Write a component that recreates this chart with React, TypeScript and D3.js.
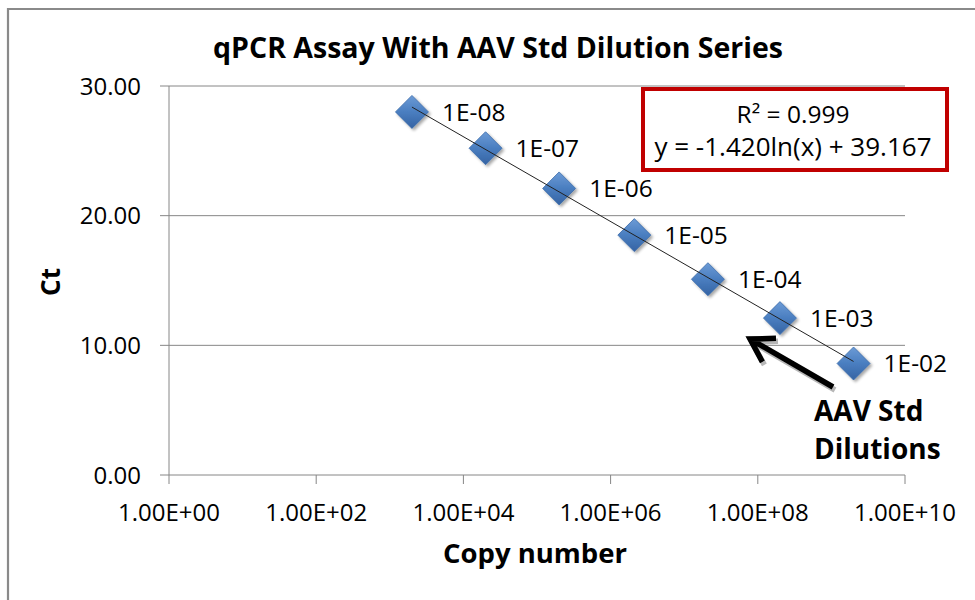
import React from "react";
import * as d3 from "d3";

const dilutionLabels = ["1E-08", "1E-07", "1E-06", "1E-05", "1E-04", "1E-03", "1E-02"];
const copyNumbers = [2.0e3, 2.0e4, 2.0e5, 2.1e6, 2.1e7, 2.0e8, 2.0e9];
const ctValues = [28.0, 25.2, 22.1, 18.5, 15.1, 12.1, 8.6];
const xTickValues = [1, 1e2, 1e4, 1e6, 1e8, 1e10];
const xTickLabels = ["1.00E+00", "1.00E+02", "1.00E+04", "1.00E+06", "1.00E+08", "1.00E+10"];
const yTickValues = [0, 10, 20, 30];
const trendSlope = -1.42;
const trendIntercept = 39.167;
const rSquaredText = "R² = 0.999";
const equationText = "y = -1.420ln(x) + 39.167";

const FONT = "'Open Sans', 'DejaVu Sans', sans-serif";

export default function App() {
  const W = 975, H = 600;
  const x = d3.scaleLog().domain([1, 1e10]).range([169, 905]);
  const y = d3.scaleLinear().domain([0, 30]).range([475, 86]);
  const fmtY = d3.format(".2f");

  const xMin = d3.min(copyNumbers) as number;
  const xMax = d3.max(copyNumbers) as number;
  const trend = (v: number) => trendSlope * Math.log(v) + trendIntercept;
  const trendLine = d3.line<number>().x((d) => x(d)).y((d) => y(trend(d)))([xMin, xMax]) || "";

  const r = 16.5;
  const diamond = (cx: number, cy: number) =>
    `M${cx},${cy - r}L${cx + r},${cy}L${cx},${cy + r}L${cx - r},${cy}Z`;

  // arrow
  const tail = [833, 387];
  const tip = [750, 339];
  const ang = Math.atan2(tail[1] - tip[1], tail[0] - tip[0]);
  const armLen = 26;
  const a1 = [tip[0] + armLen * Math.cos(ang - 0.55), tip[1] + armLen * Math.sin(ang - 0.55)];
  const a2 = [tip[0] + armLen * Math.cos(ang + 0.55), tip[1] + armLen * Math.sin(ang + 0.55)];
  const arrowPath = `M${tail[0]},${tail[1]}L${tip[0]},${tip[1]}M${a1[0]},${a1[1]}L${tip[0]},${tip[1]}L${a2[0]},${a2[1]}`;

  return (
    <svg width={W} height={H} style={{ position: "absolute", left: 0, top: 0, background: "#fff" }} fontFamily={FONT}>
      <defs>
        <linearGradient id="dg" x1="0" y1="0" x2="0" y2="1">
          <stop offset="0" stopColor="#6C9BD6" />
          <stop offset="0.5" stopColor="#4A7EC0" />
          <stop offset="1" stopColor="#3563A3" />
        </linearGradient>
        <filter id="sh" x="-30%" y="-30%" width="160%" height="160%">
          <feGaussianBlur in="SourceAlpha" stdDeviation="1.5" />
          <feOffset dx="1.5" dy="2" result="o" />
          <feComponentTransfer><feFuncA type="linear" slope="0.35" /></feComponentTransfer>
          <feMerge><feMergeNode /><feMergeNode in="SourceGraphic" /></feMerge>
        </filter>
      </defs>
      <rect x={0} y={0} width={W} height={H} fill="#fff" />
      {/* chart border */}
      <path d={`M8,${H + 5}L8,9L${W + 5},9`} fill="none" stroke="#8a8a8a" strokeWidth={2.2} />

      {/* title */}
      <text x={498} y={58} textAnchor="middle" fontSize={28.5} fontWeight="bold" fill="#000">
        qPCR Assay With AAV Std Dilution Series
      </text>

      {/* gridlines and y axis */}
      {yTickValues.map((v) => (
        <g key={v}>
          <line x1={160} x2={905} y1={y(v)} y2={y(v)} stroke="#868686" strokeWidth={1} />
          <text x={141} y={y(v) + 8.5} textAnchor="end" fontSize={24} fill="#000">{fmtY(v)}</text>
        </g>
      ))}
      <line x1={169} x2={169} y1={y(30)} y2={y(0)} stroke="#868686" strokeWidth={1} />
      {xTickValues.map((v, i) => (
        <g key={v}>
          <line x1={x(v)} x2={x(v)} y1={y(0)} y2={y(0) + 9} stroke="#868686" strokeWidth={1} />
          <text x={x(v)} y={521} textAnchor="middle" fontSize={24} fill="#000">{xTickLabels[i]}</text>
        </g>
      ))}

      {/* axis titles */}
      <text transform="translate(60,282) rotate(-90)" textAnchor="middle" fontSize={26} fontWeight="bold" fill="#000">Ct</text>
      <text x={535} y={563} textAnchor="middle" fontSize={27.5} fontWeight="bold" fill="#000">Copy number</text>

      {/* markers */}
      {copyNumbers.map((c, i) => (
        <path key={i} d={diamond(x(c), y(ctValues[i]))} fill="url(#dg)" stroke="#3A6BAA" strokeWidth={0.8} filter="url(#sh)" />
      ))}
      {/* trendline */}
      <path d={trendLine} fill="none" stroke="#222" strokeWidth={1} />
      {/* data labels */}
      {copyNumbers.map((c, i) => (
        <text key={i} x={x(c) + 30} y={y(ctValues[i]) + 9} fontSize={24.5} fill="#000">{dilutionLabels[i]}</text>
      ))}

      {/* trendline label box */}
      <rect x={643} y={89} width={304} height={81} fill="#fff" stroke="#C00000" strokeWidth={4} />
      <text x={793} y={123} textAnchor="middle" fontSize={24.5} fill="#000">{rSquaredText}</text>
      <text x={793} y={156} textAnchor="middle" fontSize={26} fill="#000">{equationText}</text>

      {/* arrow annotation */}
      <path d={arrowPath} fill="none" stroke="#999" strokeWidth={5.5} strokeLinecap="butt" strokeLinejoin="miter" transform="translate(2,3)" opacity={0.7} />
      <path d={arrowPath} fill="none" stroke="#000" strokeWidth={5.5} strokeLinecap="butt" strokeLinejoin="miter" />
      <text x={814} y={421} fontSize={28} fontWeight="bold" fill="#000">AAV Std</text>
      <text x={814} y={459} fontSize={28} fontWeight="bold" fill="#000">Dilutions</text>
    </svg>
  );
}
